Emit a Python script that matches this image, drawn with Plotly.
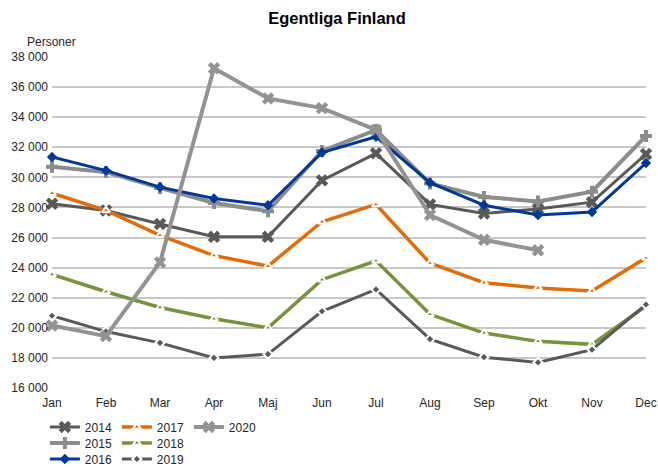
import plotly.graph_objects as go

months = ["Jan", "Feb", "Mar", "Apr", "Maj", "Jun", "Jul", "Aug", "Sep", "Okt", "Nov", "Dec"]

y2014 = [28250, 27800, 26900, 26050, 26050, 29800, 31600, 28200, 27600, 27900, 28350, 31550]
y2015 = [30700, 30350, 29300, 28300, 27750, 31750, 33150, 29600, 28700, 28400, 29050, 32750]
y2016 = [31350, 30450, 29350, 28600, 28150, 31650, 32700, 29650, 28150, 27500, 27700, 30950]
y2017 = [28950, 27800, 26150, 24800, 24100, 27050, 28200, 24300, 23000, 22650, 22450, 24650]
y2018 = [23550, 22400, 21350, 20600, 20000, 23200, 24450, 20900, 19650, 19100, 18900, 21450]
y2019 = [20800, 19750, 19000, 18000, 18250, 21100, 22550, 19250, 18050, 17700, 18550, 21550]
y2020 = [20150, 19450, 24350, 37250, 35250, 34600, 33150, 27500, 25850, 25150, None, None]

yticks = [16000, 18000, 20000, 22000, 24000, 26000, 28000, 30000, 32000, 34000, 36000, 38000]
yticktext = ["16 000", "18 000", "20 000", "22 000", "24 000", "26 000", "28 000", "30 000", "32 000", "34 000", "36 000", "38 000"]

# (name, values, line, marker, legend row)
series = [
    ("2014", y2014, dict(color="#595959", width=3), dict(symbol="x", size=11, color="#595959"), "legend"),
    ("2017", y2017, dict(color="#e36c09", width=3.5), dict(symbol="triangle-up", size=7, color="#e36c09", line=dict(color="white", width=2)), "legend"),
    ("2020", y2020, dict(color="#939393", width=4), dict(symbol="x", size=11, color="#939393"), "legend"),
    ("2015", y2015, dict(color="#8c8c8c", width=4), dict(symbol="cross", size=10, color="#8c8c8c"), "legend2"),
    ("2018", y2018, dict(color="#77933c", width=3.5), dict(symbol="triangle-up", size=7, color="#77933c", line=dict(color="white", width=2)), "legend2"),
    ("2016", y2016, dict(color="#003a96", width=3), dict(symbol="diamond", size=8, color="#003a96"), "legend3"),
    ("2019", y2019, dict(color="#595959", width=3), dict(symbol="diamond", size=7, color="#595959", line=dict(color="white", width=2)), "legend3"),
]

order = ["2014", "2015", "2016", "2017", "2018", "2019", "2020"]
fig = go.Figure()
for nm in order:
    for name, vals, line, marker, lg in series:
        if name == nm:
            fig.add_trace(go.Scatter(x=months, y=vals, name=name, mode="lines+markers",
                                     line=line, marker=marker, legend=lg, cliponaxis=False))

W, Hfig = 658, 467
PL, PR, PT, PB = 52, 646, 57, 388
H = float(PB - PT)
PWd = float(PR - PL)

def legy(py):
    return -(py - PB) / H

legend_common = dict(orientation="h", yanchor="middle", xanchor="left", x=-0.012,
                     bgcolor="rgba(0,0,0,0)", entrywidth=27, traceorder="normal",
                     font=dict(family="Liberation Sans, Arial", size=12, color="#262626"),
                     itemwidth=30)

fig.update_layout(
    width=W, height=Hfig,
    margin=dict(l=PL, r=W - PR, t=PT, b=Hfig - PB, autoexpand=False),
    paper_bgcolor="white", plot_bgcolor="white",
    font=dict(family="Liberation Sans, Arial", size=12, color="#262626"),
    title=dict(text="<b>Egentliga Finland</b>", x=337 / W, xref="container", xanchor="center",
               y=1 - 18 / Hfig, yref="container", yanchor="middle",
               font=dict(family="Liberation Sans, Arial", size=16.5, color="black")),
    legend=dict(y=legy(427), **legend_common),
    legend2=dict(y=legy(443), **legend_common),
    legend3=dict(y=legy(459), **legend_common),
    showlegend=True,
    annotations=[dict(text="Personer", xref="paper", yref="paper", x=(51 - 52) / PWd, y=(388 - 42) / H,
                      xanchor="center", yanchor="middle", showarrow=False,
                      font=dict(size=12, color="#262626"))],
)

fig.update_xaxes(type="category", range=[0, 11], showgrid=False, zeroline=False,
                 showline=False, ticks="", ticklabelstandoff=6,
                 tickfont=dict(size=12, color="#262626"))
fig.update_yaxes(range=[16000, 38000], tickvals=yticks, ticktext=yticktext,
                 showgrid=True, gridcolor="#c8c8c8", gridwidth=1.5, zeroline=False,
                 showline=False, ticks="", ticklabelstandoff=3,
                 tickfont=dict(size=12, color="#262626"))

fig.write_html("out.html", config={"displayModeBar": False},
               post_script="document.body.style.margin='0';document.body.style.overflow='hidden';")
